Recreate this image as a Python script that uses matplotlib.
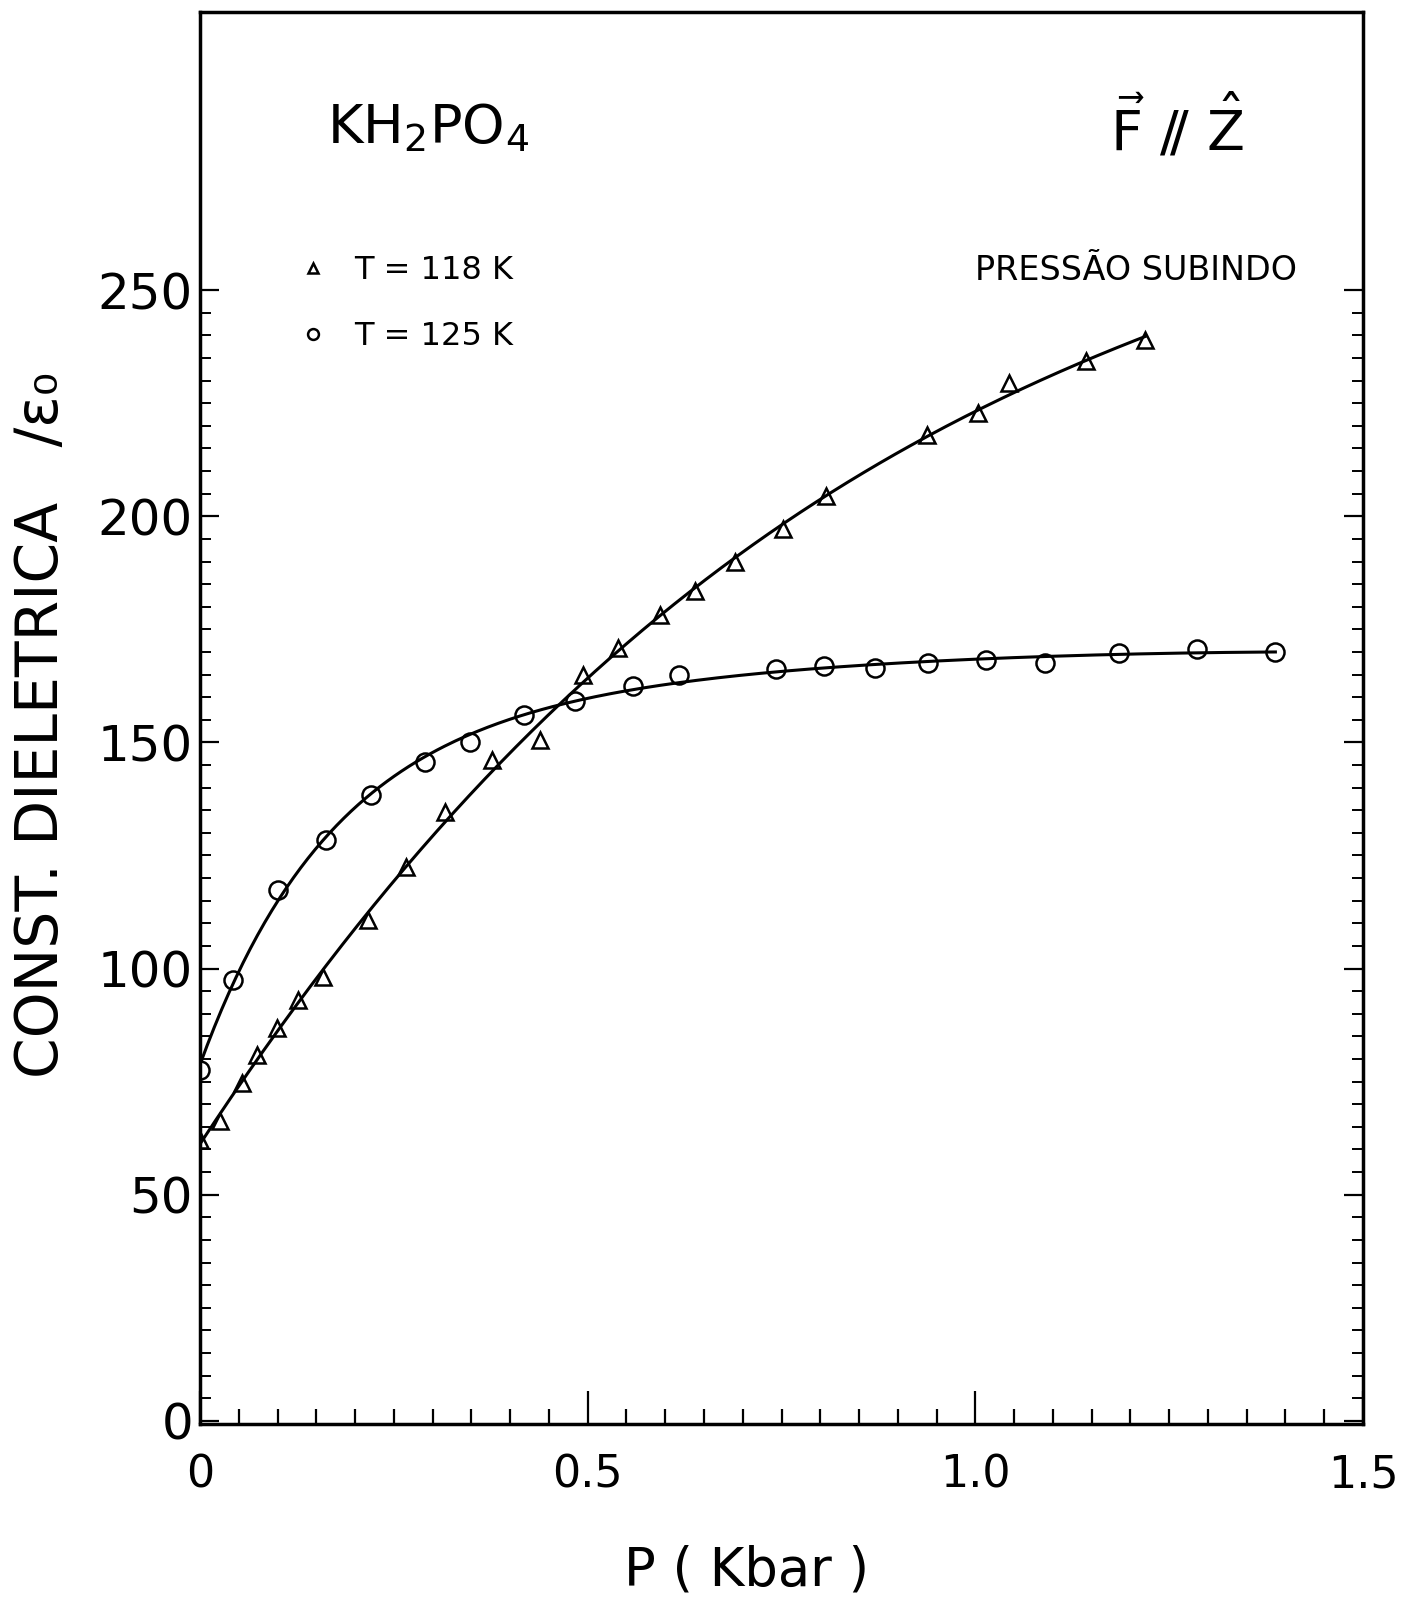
import numpy as np
import matplotlib
matplotlib.use("Agg")
import matplotlib.pyplot as plt
from matplotlib.ticker import MultipleLocator

# ---- data ----
tri_P = [0.0, 0.026, 0.054, 0.073, 0.099, 0.127, 0.159, 0.217, 0.266, 0.316, 0.376, 0.438,
         0.494, 0.539, 0.593, 0.639, 0.690, 0.752, 0.807, 0.938, 1.004, 1.044, 1.143, 1.219]
tri_E = [62.1, 66.2, 74.6, 80.9, 86.8, 93.1, 98.2, 110.7, 122.5, 134.7, 146.1, 150.5,
         164.9, 170.8, 178.2, 183.5, 190.0, 197.2, 204.4, 217.9, 222.9, 229.4, 234.4, 238.9]

circ_P = [0.0, 0.043, 0.101, 0.162, 0.221, 0.290, 0.348, 0.418, 0.484, 0.558, 0.618,
          0.743, 0.805, 0.870, 0.939, 1.014, 1.090, 1.185, 1.286, 1.387]
circ_E = [77.6, 97.5, 117.4, 128.4, 138.4, 145.7, 150.2, 156.1, 159.2, 162.5, 164.9,
          166.2, 166.9, 166.4, 167.6, 168.2, 167.6, 169.7, 170.6, 170.0]

labels = ["T = 118 K", "T = 125 K"]
xtick_vals = [0, 0.5, 1.0, 1.5]
xtick_labels = ["0", "0.5", "1.0", "1.5"]
ytick_vals = [0, 50, 100, 150, 200, 250]

# ---- smooth fitted curves (least squares) ----
tp = np.array(tri_P); te = np.array(tri_E)
c_tri = np.polyfit(tp, te, 3)
xt = np.linspace(0, tp.max(), 300)
yt = np.polyval(c_tri, xt)

cp = np.array(circ_P); ce = np.array(circ_E)
def basis(x):
    return np.column_stack([np.ones_like(x), x, x**2, np.exp(-x / 0.17)])
coef, *_ = np.linalg.lstsq(basis(cp), ce, rcond=None)
xc = np.linspace(0, cp.max(), 300)
yc = basis(xc) @ coef

# ---- figure ----
W, H = 1419, 1597
fig = plt.figure(figsize=(W / 100, H / 100), dpi=100)
fig.patch.set_facecolor("white")
ax = fig.add_axes([200 / W, 1 - 1424 / H, 1163 / W, 1412 / H])

ax.plot(xt, yt, color="black", lw=2.2)
ax.plot(xc, yc, color="black", lw=2.2)
h1, = ax.plot(tri_P, tri_E, linestyle="none", marker="^", ms=11, mfc="none",
              mec="black", mew=1.8, label=labels[0])
h2, = ax.plot(circ_P, circ_E, linestyle="none", marker="o", ms=13, mfc="none",
              mec="black", mew=1.8, label=labels[1])

ax.set_xlim(0, 1.5)
ax.set_ylim(-0.7, 311.5)

for s in ax.spines.values():
    s.set_linewidth(2.5)

ax.set_xticks(xtick_vals)
ax.set_xticklabels(xtick_labels)
ax.xaxis.set_minor_locator(MultipleLocator(0.05))
ax.set_yticks(ytick_vals)
ax.set_yticks(np.arange(0, 251, 5), minor=True)

ax.tick_params(axis="x", which="major", direction="in", length=24, width=1.6,
               labelsize=32, pad=21, top=False)
ax.tick_params(axis="x", which="minor", direction="in", length=11, width=1.6, top=False)
ax.tick_params(axis="y", which="major", direction="in", length=14, width=1.6,
               labelsize=36, pad=5, right=True)
ax.tick_params(axis="y", which="minor", direction="in", length=8, width=1.4, right=True)

ax.set_xlabel("P ( Kbar )", fontsize=38)
ax.xaxis.set_label_coords(0.470, -0.085)
ax.set_ylabel("CONST. DIELETRICA   /ε₀", fontsize=42)
ax.yaxis.set_label_coords(-0.112, 0.495)

ax.text(0.196, 0.918, r"KH$_2$PO$_4$", transform=ax.transAxes, fontsize=39,
        ha="center", va="center")
ax.text(0.840, 0.918, r"$\vec{\mathrm{F}}\ /\!/\ \hat{\mathrm{Z}}$", transform=ax.transAxes,
        fontsize=40, ha="center", va="center")
ax.text(0.805, 0.817, "PRESSÃO SUBINDO", transform=ax.transAxes, fontsize=24,
        ha="center", va="center")

ax.legend(handles=[h1, h2], loc="upper left", bbox_to_anchor=(0.086, 0.828),
          frameon=False, markerscale=0.6, handlelength=0.8, handletextpad=0.9,
          fontsize=23, labelspacing=1.1, borderpad=0, borderaxespad=0)

fig.savefig("out.png", dpi=100, facecolor="white")
